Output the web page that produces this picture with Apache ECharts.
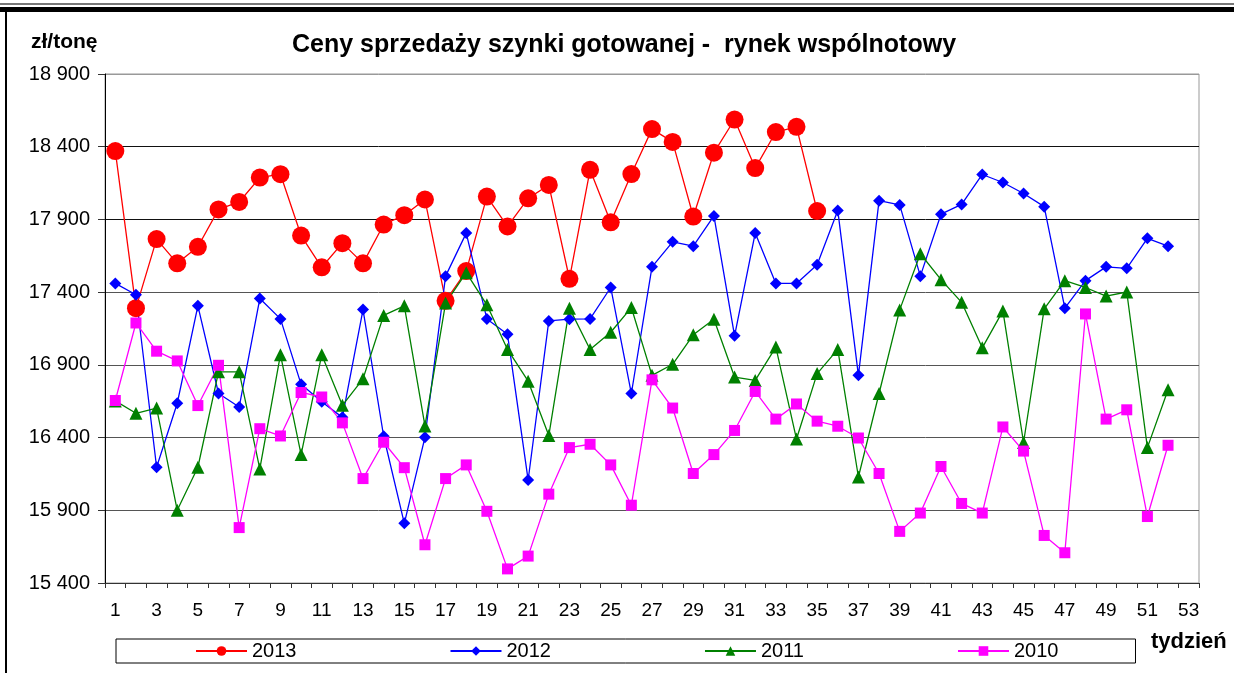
<!DOCTYPE html>
<html>
<head>
<meta charset="utf-8">
<script src="https://cdn.jsdelivr.net/npm/echarts@6/dist/echarts.min.js"></script>
<style>
html,body{margin:0;padding:0;background:#fff;}
#chart{width:1234px;height:673px;}
</style>
</head>
<body>
<div id="chart"></div>
<script>
var weeks = [];
for (var i = 1; i <= 53; i++) weeks.push(String(i));

var y2013 = [18370, 17290, 17765, 17598, 17712, 17969, 18020, 18188, 18211, 17789, 17571, 17737, 17598, 17865, 17929, 18037, 17340, 17545, 18057, 17852, 18045, 18137, 17492, 18241, 17880, 18212, 18521, 18433, 17920, 18359, 18587, 18253, 18501, 18537, 17958];

var y2012 = [17460, 17382, 16196, 16636, 17306, 16703, 16610, 17356, 17216, 16766, 16646, 16539, 17280, 16409, 15810, 16402, 17510, 17806, 17216, 17110, 16108, 17202, 17214, 17216, 17432, 16703, 17574, 17746, 17716, 17924, 17100, 17806, 17460, 17460, 17588, 17962, 16828, 18029, 18000, 17510, 17936, 18003, 18209, 18154, 18078, 17988, 17290, 17479, 17574, 17564, 17770, 17716];

var y2011 = [16652, 16567, 16603, 15900, 16196, 16852, 16852, 16184, 16970, 16283, 16970, 16622, 16804, 17240, 17306, 16480, 17325, 17534, 17313, 17006, 16788, 16414, 17290, 17006, 17124, 17294, 16828, 16904, 17107, 17214, 16816, 16793, 17022, 16390, 16840, 17006, 16129, 16703, 17278, 17664, 17486, 17330, 17017, 17271, 16366, 17285, 17479, 17432, 17373, 17401, 16331, 16729];

var y2010 = [16655, 17188, 16994, 16927, 16620, 16897, 15781, 16461, 16411, 16710, 16679, 16501, 16118, 16368, 16193, 15663, 16118, 16212, 15893, 15497, 15585, 16011, 16331, 16354, 16212, 15935, 16797, 16603, 16153, 16283, 16449, 16717, 16527, 16631, 16513, 16478, 16397, 16153, 15755, 15881, 16201, 15947, 15881, 16473, 16307, 15727, 15608, 17250, 16527, 16591, 15857, 16347];

var seriesNames = ['2013', '2012', '2011', '2010'];
var yMin = 15400, yMax = 18900, yStep = 500;

var FONT = 'Liberation Sans, Arial, sans-serif';
var chart = echarts.init(document.getElementById('chart'), null, {renderer: 'canvas'});

function fmt(v) { return String(v).replace(/\B(?=(\d{3})+(?!\d))/g, ' '); }

function lineSeries(name, data, color, symbol, size) {
  return {
    name: name, type: 'line', data: data,
    symbol: symbol, symbolSize: size, showAllSymbol: true,
    lineStyle: {color: color, width: 1.3},
    itemStyle: {color: color, borderWidth: 0},
    emphasis: {disabled: true},
    animation: false
  };
}

chart.setOption({
  animation: false,
  backgroundColor: '#fff',
  textStyle: {fontFamily: FONT, color: '#000'},
  title: [
    {text: 'Ceny sprzedaży szynki gotowanej -  rynek wspólnotowy', left: 287, top: 28,
     textStyle: {fontFamily: FONT, fontSize: 25, fontWeight: 'bold', color: '#000'}},
    {text: 'zł/tonę', left: 26, top: 27,
     textStyle: {fontFamily: FONT, fontSize: 21, fontWeight: 'bold', color: '#000'}},
    {text: 'tydzień', left: 1146, top: 626,
     textStyle: {fontFamily: FONT, fontSize: 22, fontWeight: 'bold', color: '#000'}}
  ],
  grid: {left: 105, right: 35, top: 74, bottom: 90, show: true, borderColor: '#999', borderWidth: 1, containLabel: false},
  legend: {
    data: seriesNames,
    left: 116, top: 639,
    padding: [2, 77, 2, 79],
    itemGap: 153, itemWidth: 51, itemHeight: 12,
    borderColor: '#000', borderWidth: 1,
    textStyle: {fontFamily: FONT, fontSize: 20, color: '#000'}
  },
  xAxis: {
    type: 'category', data: weeks, boundaryGap: true,
    axisLine: {lineStyle: {color: '#333', width: 1}},
    axisTick: {show: true, interval: 0, length: 5, lineStyle: {color: '#333'}},
    axisLabel: {interval: 1, margin: 18, fontSize: 19, color: '#000', fontFamily: FONT},
    splitLine: {show: false}
  },
  yAxis: {
    type: 'value', min: yMin, max: yMax, interval: yStep,
    axisLine: {show: true, lineStyle: {color: '#000', width: 1}},
    axisTick: {show: true, length: 7, lineStyle: {color: '#333'}},
    axisLabel: {margin: 15, fontSize: 20, color: '#000', fontFamily: FONT, formatter: fmt},
    splitLine: {show: true, lineStyle: {color: ['#555', '#555', '#555', '#555', '#555', '#111', '#111', '#999'], width: 1}}
  },
  graphic: [
    {type: 'rect', shape: {x: 0, y: 3, width: 1234, height: 2}, style: {fill: '#777'}, silent: true},
    {type: 'rect', shape: {x: 0, y: 7, width: 1234, height: 5}, style: {fill: '#000'}, silent: true},
    {type: 'rect', shape: {x: 5, y: 7, width: 2, height: 666}, style: {fill: '#000'}, silent: true}
  ],
  series: [
    lineSeries('2013', y2013, '#FF0000', 'circle', 18),
    lineSeries('2012', y2012, '#0000FF', 'diamond', 12),
    lineSeries('2011', y2011, '#008000', 'triangle', 13),
    lineSeries('2010', y2010, '#FF00FF', 'rect', 11)
  ]
});
</script>
</body>
</html>
